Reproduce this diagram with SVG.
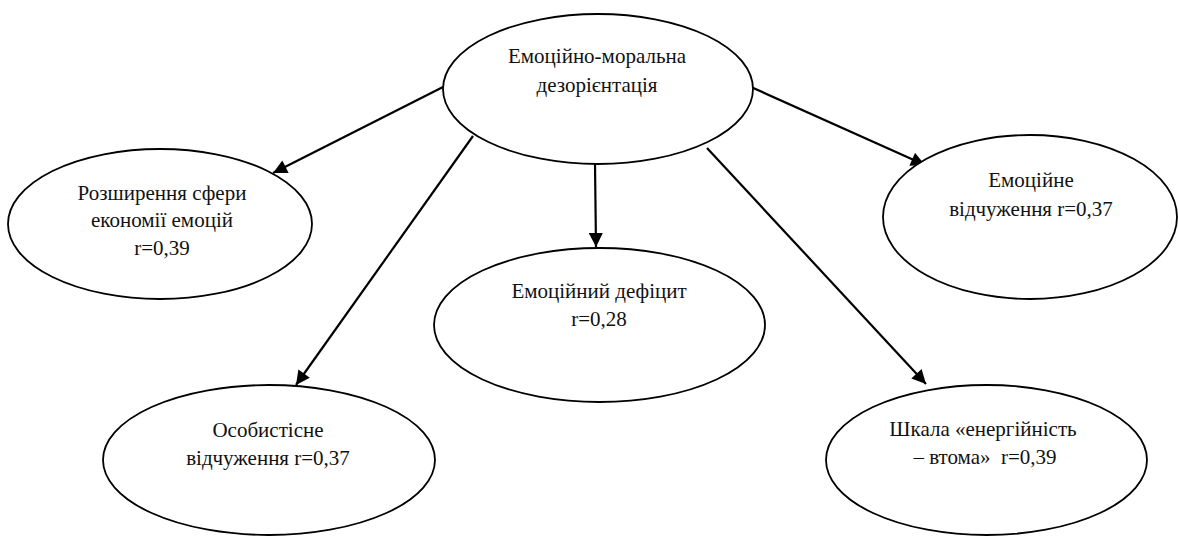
<svg xmlns="http://www.w3.org/2000/svg" width="1178" height="536" viewBox="0 0 1178 536">
  <style>
    .node ellipse { fill: #fff; stroke: #000; stroke-width: 1.8; }
    .node text { font-family: "Liberation Serif", "Times New Roman", "DejaVu Serif", serif; font-size: 21px; fill: #111; text-anchor: middle; }
    .edge { stroke: #000; stroke-width: 2.2; fill: none; marker-end: url(#arrow); }
  </style>
  <defs>
    <marker id="arrow" viewBox="0 0 10 10" refX="10" refY="5" markerUnits="userSpaceOnUse" markerWidth="16" markerHeight="14" orient="auto">
      <path d="M0,0 L10,5 L0,10 Z" fill="#000"/>
    </marker>
  </defs>

  <rect width="1178" height="536" fill="#fff"/>

  <!-- connectors -->
  <g id="connectors">
    <line class="edge" x1="443" y1="87" x2="273" y2="173"/>
    <line class="edge" x1="473" y1="136" x2="296" y2="385"/>
    <line class="edge" x1="595" y1="164" x2="596" y2="247"/>
    <line class="edge" x1="751" y1="87" x2="925" y2="165"/>
    <line class="edge" x1="707" y1="148" x2="926" y2="384"/>
  </g>

  <!-- nodes -->
  <g id="node-root" class="node">
    <ellipse cx="598" cy="89" rx="155" ry="75"/>
    <text x="597" y="63">Емоційно-моральна</text>
    <text x="597" y="92">дезорієнтація</text>
  </g>

  <g id="node-economy" class="node">
    <ellipse cx="160" cy="224" rx="152" ry="75"/>
    <text x="162" y="200">Розширення сфери</text>
    <text x="162" y="227">економії емоцій</text>
    <text x="162" y="255">r=0,39</text>
  </g>

  <g id="node-deficit" class="node">
    <ellipse cx="599.5" cy="325" rx="165.5" ry="77"/>
    <text x="599" y="298">Емоційний дефіцит</text>
    <text x="599" y="326">r=0,28</text>
  </g>

  <g id="node-emotional" class="node">
    <ellipse cx="1030" cy="217" rx="147" ry="82"/>
    <text x="1031" y="187">Емоційне</text>
    <text x="1031" y="216">відчуження r=0,37</text>
  </g>

  <g id="node-personal" class="node">
    <ellipse cx="269" cy="460" rx="166" ry="75"/>
    <text x="268" y="437">Особистісне</text>
    <text x="268" y="465">відчуження r=0,37</text>
  </g>

  <g id="node-energy" class="node">
    <ellipse cx="986.5" cy="460" rx="160.5" ry="75"/>
    <text x="983" y="436">Шкала «енергійність</text>
    <text x="985" y="464" xml:space="preserve">– втома»  r=0,39</text>
  </g>
</svg>
